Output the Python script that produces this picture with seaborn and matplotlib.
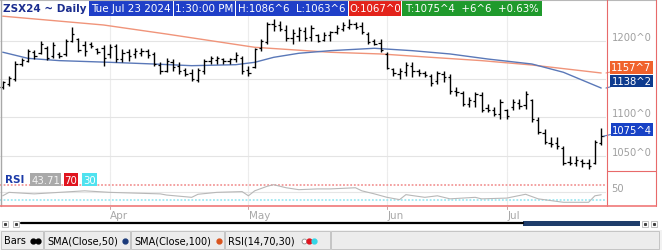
import numpy as np
import pandas as pd
import matplotlib
matplotlib.use("Agg")
import matplotlib.pyplot as plt
import seaborn as sns
from matplotlib.patches import Rectangle

# ---------------- data ----------------
highs = [1148, 1154, 1174, 1178, 1189, 1188, 1200, 1193, 1198, 1185,
         1202, 1218, 1204, 1200, 1198, 1191, 1194, 1196, 1196, 1189,
         1189, 1190, 1190, 1189, 1185, 1172, 1178, 1176, 1172, 1165,
         1163, 1165, 1176, 1180, 1180, 1178, 1178, 1185, 1180, 1167,
         1191, 1202, 1224, 1228, 1226, 1220, 1215, 1218, 1218, 1220,
         1209, 1211, 1213, 1220, 1224, 1228, 1224, 1224, 1211, 1202,
         1202, 1185, 1165, 1165, 1172, 1172, 1163, 1161, 1157, 1161,
         1161, 1157, 1139, 1135, 1126, 1133, 1133, 1117, 1113, 1124,
         1111, 1124, 1124, 1135, 1124, 1100, 1085, 1074, 1074, 1063,
         1050, 1050, 1046, 1046, 1070, 1086.75]
lows = [1137, 1141, 1148, 1167, 1172, 1176, 1183, 1175, 1178, 1178,
        1180, 1198, 1185, 1180, 1191, 1183, 1167, 1178, 1172, 1172,
        1174, 1178, 1180, 1178, 1167, 1157, 1159, 1161, 1157, 1154,
        1148, 1146, 1157, 1170, 1170, 1170, 1170, 1172, 1157, 1154,
        1165, 1187, 1196, 1213, 1213, 1200, 1196, 1200, 1200, 1200,
        1198, 1200, 1200, 1209, 1213, 1215, 1215, 1209, 1196, 1194,
        1185, 1163, 1154, 1150, 1154, 1152, 1154, 1152, 1141, 1144,
        1146, 1131, 1128, 1115, 1114, 1113, 1107, 1107, 1102, 1098,
        1098, 1110, 1111, 1111, 1094, 1078, 1065, 1061, 1059, 1038,
        1038, 1037, 1035, 1033, 1039, 1063.75]
opens = [1139, 1144, 1150, 1169, 1174, 1185, 1184, 1190, 1180, 1183,
         1182, 1200, 1202, 1195, 1196, 1189, 1190, 1182, 1193, 1176,
         1185, 1182, 1184, 1186, 1182, 1168, 1161, 1172, 1167, 1162,
         1158, 1149, 1160, 1174, 1175, 1176, 1173, 1176, 1178, 1162,
         1166, 1190, 1198, 1222, 1220, 1214, 1204, 1206, 1213, 1205,
         1207, 1201, 1207, 1211, 1215, 1218, 1222, 1219, 1209, 1200,
         1197, 1183, 1163, 1157, 1159, 1167, 1160, 1158, 1154, 1147,
         1157, 1152, 1135, 1132, 1118, 1121, 1129, 1112, 1109, 1104,
         1110, 1113, 1119, 1116, 1122, 1097, 1080, 1067, 1066, 1060,
         1042, 1041, 1043, 1041, 1040, 1067]
closes = [1146, 1151, 1170, 1175, 1187, 1180, 1196, 1178, 1194, 1180,
          1199, 1209, 1188, 1186, 1193, 1185, 1178, 1192, 1176, 1184,
          1180, 1186, 1187, 1181, 1170, 1160, 1173, 1166, 1160, 1157,
          1150, 1162, 1173, 1177, 1178, 1174, 1176, 1181, 1160, 1158,
          1189, 1200, 1222, 1219, 1215, 1203, 1210, 1214, 1204, 1216,
          1200, 1208, 1211, 1216, 1220, 1222, 1218, 1211, 1198, 1196,
          1188, 1165, 1158, 1160, 1168, 1160, 1158, 1155, 1145, 1158,
          1152, 1134, 1133, 1118, 1122, 1130, 1110, 1110, 1105, 1120,
          1102, 1120, 1115, 1130, 1098, 1081, 1068, 1065, 1062, 1041,
          1040, 1044, 1040, 1036, 1068, 1075.5]

sma50_idx = [0, 4, 9, 17, 24, 30, 37, 40, 43, 47, 52, 59, 65, 71, 77, 84, 89, 95]
sma50_val = [1185, 1177, 1174, 1171.8, 1169.6, 1167.4, 1168.7, 1171.8, 1178.3,
             1183.6, 1187, 1190.1, 1187, 1182.7, 1176.1, 1169.6, 1158.8, 1138.25]
sma100_idx = [0, 16, 26, 40, 52, 60, 68, 76, 84, 95]
sma100_val = [1232, 1220.5, 1208.7, 1191.4, 1184.9, 1182.7, 1178.3, 1174, 1168.3, 1157.875]

rsi_idx = [0, 1, 5, 9, 13, 17, 25, 26, 30, 31, 34, 38, 39, 40, 42, 43, 45, 47, 50,
           52, 56, 57, 59, 61, 63, 64, 67, 69, 71, 75, 76, 80, 83, 85, 89, 93, 94, 95]
rsi_val = [41, 50, 46, 50, 54, 50, 46, 43, 37, 45, 50, 52, 41, 54, 66, 70, 62, 57, 59,
           59, 62, 54, 46, 37, 31, 44, 37, 41, 33, 37, 33, 35, 45, 33, 24, 24, 41, 43.71]

month_pos = [17, 39, 61, 80]
month_labels = ["Apr", "May", "Jun", "Jul"]
grid_prices = [1050, 1100, 1150, 1200]
axis_labels = [(1200, "1200^0"), (1100, "1100^0"), (1050, "1050^0")]

# ---------------- figure ----------------
W, H, DPI = 662, 251, 100
sns.set_theme(style="white")
plt.rcParams["font.family"] = ["DejaVu Sans"]

fig = plt.figure(figsize=(W / DPI, H / DPI), dpi=DPI, facecolor="white")

def fx(px):
    return px / W

def fy(py):
    return 1 - py / H

P_TOP, P_BOT, R_BOT, X_RIGHT = 0.0, 171.7, 206.7, 606.0
ax_p = fig.add_axes([0, fy(P_BOT), fx(X_RIGHT), (P_BOT - P_TOP) / H])
ax_r = fig.add_axes([0, fy(R_BOT), fx(X_RIGHT), (R_BOT - P_BOT) / H])

XL = (-2.7 / 6.3, (X_RIGHT - 2.7) / 6.3)
for a in (ax_p, ax_r):
    a.set_xlim(*XL)
    a.set_facecolor("white")
    for s in a.spines.values():
        s.set_visible(False)
    a.set_xticks([])
    a.set_yticks([])
    for m in month_pos:
        a.axvline(m, color="#ececec", lw=0.8, zorder=0)

ax_p.set_ylim(1030.4, 1254.4)
ax_r.set_ylim(15.1, 106.6)

for g in grid_prices:
    ax_p.axhline(g, color="#e4e4e4", lw=0.8, zorder=0)

# bars
df = pd.DataFrame({"x": np.arange(len(highs)), "h": highs, "l": lows, "o": opens, "c": closes})
ax_p.vlines(df.x, df.l, df.h, color="black", lw=1.0, zorder=3)
ax_p.hlines(df.o, df.x - 0.38, df.x, color="black", lw=0.9, zorder=3)
ax_p.hlines(df.c, df.x, df.x + 0.38, color="black", lw=0.9, zorder=3)

# moving averages
sns.lineplot(x=sma100_idx, y=sma100_val, ax=ax_p, color="#f0947a", lw=1.0, zorder=2)
sns.lineplot(x=sma50_idx, y=sma50_val, ax=ax_p, color="#5a78b8", lw=1.0, zorder=2)
ax_p.set_xlabel("")
ax_p.set_ylabel("")

# RSI
ax_r.axhline(50, color="#e6e6e6", lw=0.8, zorder=1)
ax_r.axhline(70, color="#f29a9a", lw=1.3, ls=(0, (1, 1)), zorder=1)
ax_r.axhline(30, color="#9ee8f2", lw=1.3, ls=(0, (1, 1)), zorder=1)
sns.lineplot(x=rsi_idx, y=rsi_val, ax=ax_r, color="#b8b8b8", lw=0.8, zorder=2)
ax_r.set_xlabel("")
ax_r.set_ylabel("")
ax_r.set_xlim(*XL)

# right axis labels
for v, t in axis_labels:
    ax_p.annotate(t, xy=(1, v), xycoords=("axes fraction", "data"),
                  xytext=(26 * 0.72, 4 * 0.72), textcoords="offset points",
                  ha="center", va="center", color="#a0a0a0", fontsize=7.2,
                  annotation_clip=False)
ax_r.annotate("50", xy=(1, 50), xycoords=("axes fraction", "data"),
              xytext=(12 * 0.72, 4 * 0.72), textcoords="offset points",
              ha="center", va="center", color="#a0a0a0", fontsize=7.2,
              annotation_clip=False)

# value boxes
def vbox(ax, text, xy, xycoords, dx_px, dy_px, fc, lc):
    ax.annotate(text, xy=xy, xycoords=xycoords,
                xytext=(dx_px * 0.72, dy_px * 0.72), textcoords="offset points",
                ha="center", va="center", color="white", fontsize=7.2,
                bbox=dict(boxstyle="square,pad=0.12", fc=fc, ec="none"),
                arrowprops=dict(arrowstyle="-", color=lc, lw=0.8, shrinkA=0, shrinkB=0),
                annotation_clip=False, zorder=6)

vbox(ax_p, "1157^7", (1, sma100_val[-1]), ("axes fraction", "data"), 25.5, 5.5, "#f0622c", "#f0947a")
vbox(ax_p, "1138^2", (1, sma50_val[-1]), ("axes fraction", "data"), 25.5, 7.0, "#0e3b8e", "#5a78b8")
vbox(ax_p, "1075^4", (len(closes) - 1 + 0.4, closes[-1]), "data", 28, 6.5, "#1842c6", "#5a78b8")

# month labels
for m, lab in zip(month_pos, month_labels):
    ax_r.annotate(lab, xy=(m, 0), xycoords=("data", "axes fraction"),
                  xytext=(0.5 * 0.72, -9 * 0.72), textcoords="offset points",
                  ha="left", va="center", color="#a8a8a8", fontsize=7.5,
                  annotation_clip=False)

# ---------------- overlay (frame, header, legend) ----------------
ov = fig.add_axes([0, 0, 1, 1], zorder=10)
ov.set_xlim(0, W)
ov.set_ylim(H, 0)
ov.axis("off")
ov.patch.set_alpha(0)

RED = "#e86a6a"
ov.plot([0, 656], [0.5, 0.5], color="#b8b8b8", lw=0.8)
ov.plot([0.6, 0.6], [0, R_BOT], color="#a8a8a8", lw=1.0)
ov.plot([606.5, 606.5], [0, R_BOT], color=RED, lw=0.8)
ov.plot([656, 656], [0, R_BOT], color=RED, lw=0.8)
ov.plot([606.5, 656], [P_BOT, P_BOT], color=RED, lw=0.8)
ov.plot([0, 656], [R_BOT, R_BOT], color="#f07878", lw=1.2)
for m in month_pos:
    px = 2.7 + 6.3 * m
    ov.plot([px, px], [R_BOT, R_BOT + 3], color="#d0a0a0", lw=0.7)


def pbox(x0, x1, y0, y1, fc, text=None, tc="white", fs=7.5, bold=False, ec="none"):
    ov.add_patch(Rectangle((x0, y0), x1 - x0, y1 - y0, fc=fc, ec=ec, lw=0.7))
    if text:
        ov.text((x0 + x1) / 2, (y0 + y1) / 2 + 0.5, text, color=tc, fontsize=fs,
                ha="center", va="center", fontweight="bold" if bold else "normal")

# header
ov.text(3, 9, "ZSX24 ~ Daily", color="#1b2d8f", fontsize=7.5, fontweight="bold",
        ha="left", va="center")
pbox(88.5, 173, 1, 16.5, "#1f3fc8", "Tue Jul 23 2024")
pbox(174, 235, 1, 16.5, "#1f3fc8", "1:30:00 PM")
pbox(236, 348, 1, 16.5, "#1f3fc8", "H:1086^6  L:1063^6", fs=7.3)
pbox(349, 401, 1, 16.5, "#e3231b", "O:1067^0", fs=7.3)
pbox(402, 542, 1, 16.5, "#1f9a2c", "T:1075^4  +6^6  +0.63%", fs=7.3)

# RSI header
ov.text(5, 180.5, "RSI", color="#1b3aa8", fontsize=7.5, fontweight="bold", ha="left", va="center")
pbox(30, 61, 174, 187, "#a9a9a9", "43.71", tc="#f4f4f4", fs=7.3)
pbox(64, 78, 174, 187, "#e0141e", "70", fs=7.3)
pbox(82, 97, 174, 187, "#4fe2ef", "30", fs=7.3)

# scrollbar
for x0 in (2, 12.5):
    ov.add_patch(Rectangle((x0, 221.5), 6, 6, fc="white", ec="#b8b8b8", lw=0.6))
    ov.plot([x0 + 3], [224.5], "s", ms=1.2, color="#404040")
ov.plot([21, 523], [224.3, 224.3], color="black", lw=1.6)
ov.add_patch(Rectangle((523, 222), 117, 5.2, fc="#1f3d6b", ec="none"))
for x0 in (642, 651):
    ov.add_patch(Rectangle((x0, 221.5), 6, 6, fc="white", ec="#b8b8b8", lw=0.6))
    ov.plot([x0 + 3], [224.5], "s", ms=1.2, color="#404040")

# legend bar
ov.add_patch(Rectangle((0, 230.5), W, 20.5, fc="#f2f2f2", ec="none"))
for x0, x1 in [(1, 43), (44, 130), (131, 224), (225, 330), (331, 659)]:
    ov.add_patch(Rectangle((x0, 232), x1 - x0, 18, fc="#ececec", ec="#c4c4c4", lw=0.7))
LY = 241.5
ov.text(4, LY, "Bars", fontsize=7, color="black", ha="left", va="center")
ov.plot([32.5, 37.5], [LY, LY], "o", ms=3.5, color="black")
ov.text(47, LY, "SMA(Close,50)", fontsize=7, color="black", ha="left", va="center")
ov.plot([125], [LY], "o", ms=3.5, color="#1b3a7a")
ov.text(134, LY, "SMA(Close,100)", fontsize=7, color="black", ha="left", va="center")
ov.plot([219], [LY], "o", ms=3.5, color="#d9541e")
ov.text(228, LY, "RSI(14,70,30)", fontsize=7, color="black", ha="left", va="center")
ov.plot([304], [LY], "o", ms=3.5, mfc="white", mec="#909090", mew=0.6)
ov.plot([309], [LY], "o", ms=3.5, color="#e0141e")
ov.plot([314], [LY], "o", ms=3.5, color="#35d6e6")

fig.savefig("out.png", dpi=DPI, facecolor="white")
